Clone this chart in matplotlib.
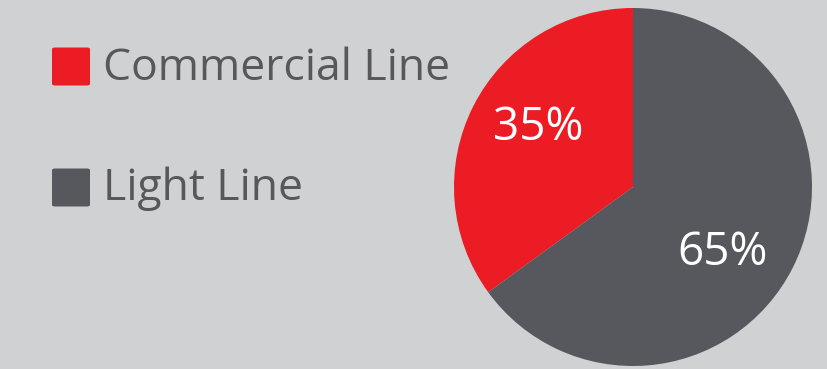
import matplotlib
matplotlib.use("Agg")
import matplotlib.pyplot as plt
from matplotlib.patches import FancyBboxPatch
import numpy as np

categories = ["Commercial Line", "Light Line"]
values = [35, 65]
colors = ["#ec1c24", "#57585d"]

W, H = 827, 369
fig = plt.figure(figsize=(W / 100, H / 100), dpi=100)
fig.patch.set_facecolor("#d0d1d3")

# pie axes: center (633,187) px, radius 179 px
cx, cy, r = 633, 187, 179
ax = fig.add_axes([(cx - r) / W, (H - cy - r) / H, 2 * r / W, 2 * r / H])
wedges, texts, autotexts = ax.pie(
    values, colors=colors, startangle=90, counterclock=True,
    autopct=lambda p: f"{p:.0f}%", pctdistance=0.62,
    wedgeprops=dict(linewidth=0),
    textprops=dict(color="white", fontsize=33, family="Open Sans"),
)
# nudge label positions (radius units)
autotexts[0].set_position((-0.53, 0.33))
autotexts[1].set_position((0.50, -0.37))
ax.set_xlim(-1, 1)
ax.set_ylim(-1, 1)
ax.set_aspect("equal")
ax.axis("off")

# legend
sq_x, sq_size = 52, 38
rows_y = [66.5, 187.5]
text_y = [63, 183]
for cat, col, ry, ty in zip(categories, colors, rows_y, text_y):
    p = FancyBboxPatch(((sq_x) / W, (H - ry - sq_size / 2) / H),
                       sq_size / W, sq_size / H,
                       boxstyle="round,pad=0,rounding_size=0.004",
                       transform=fig.transFigure, facecolor=col,
                       edgecolor="none")
    fig.patches.append(p)
    fig.text(103 / W, (H - ty) / H, cat, fontsize=32, family="Open Sans",
             color="#58585a", va="center_baseline", ha="left")

fig.savefig("out.png", dpi=100, facecolor=fig.get_facecolor())
